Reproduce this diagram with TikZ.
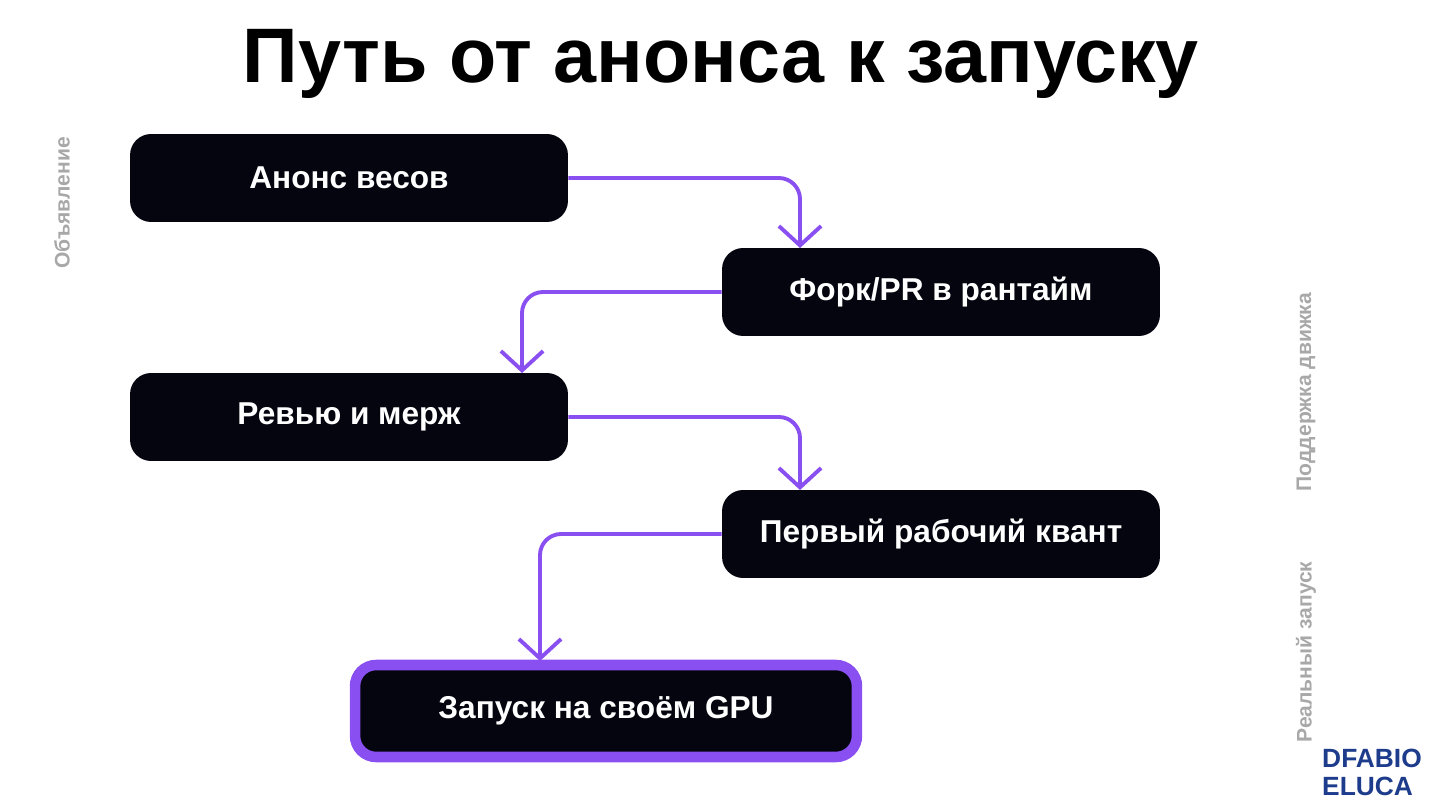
\documentclass[tikz,border=0pt]{standalone}
\usepackage{fontspec}
\setmainfont{Liberation Sans}
\usetikzlibrary{arrows.meta}
\definecolor{StepBlack}{HTML}{05050F}
\definecolor{FlowViolet}{HTML}{8A4FF0}
\definecolor{SideGray}{HTML}{A8A8A8}
\definecolor{LogoBlue}{HTML}{1E3C8C}
\tikzset{
  stepbox/.style={fill=StepBlack, rounded corners=12pt, text=white, minimum width=8.76cm, minimum height=1.76cm, font=\bfseries\fontsize{18}{21}\selectfont},
  finalbox/.style={stepbox, draw=FlowViolet, line width=6pt, minimum width=10.04cm, minimum height=1.84cm},
  flow/.style={draw=FlowViolet, line width=2.2pt, rounded corners=12pt, -{Straight Barb[length=11pt,width=24pt,line width=2.2pt]}},
  side/.style={rotate=90, text=SideGray, font=\bfseries\fontsize{12}{14}\selectfont}
}
\begin{document}
\begin{tikzpicture}[x=0.02cm, y=-0.02cm]
 \useasboundingbox (0,0) rectangle (1440,810);

 % Title
 \node[font=\bfseries\fontsize{44}{50}\selectfont] (title) at (721,64) {Путь от анонса к запуску};

 % Steps
 \node[stepbox] (announce) at (349,178) {Анонс весов};
 \node[stepbox] (fork) at (941,292) {Форк/PR в рантайм};
 \node[stepbox] (review) at (349,417) {Ревью и мерж};
 \node[stepbox] (quant) at (941,534) {Первый рабочий квант};
 \node[finalbox] (launch) at (606,711) {Запуск на своём GPU};

 % Connectors
 \coordinate (c1) at (800,248);
 \coordinate (c2) at (522,373);
 \coordinate (c3) at (800,490);
 \coordinate (c4) at (540,661);
 \draw[flow] (announce.east) -| (c1);
 \draw[flow] (fork.west) -| (c2);
 \draw[flow] (review.east) -| (c3);
 \draw[flow] (quant.west) -| (c4);

 % Side labels
 \node[side] (phase1) at (62,203) {Объявление};
 \node[side] (phase2) at (1306,392) {Поддержка движка};
 \node[side] (phase3) at (1306,652) {Реальный запуск};

 % Logo
 \node[text=LogoBlue, font=\bfseries\fontsize{15}{16}\selectfont, align=left, inner sep=0pt] (logo) at (1372,772) {DFABIO\\ELUCA};
\end{tikzpicture}
\end{document}
